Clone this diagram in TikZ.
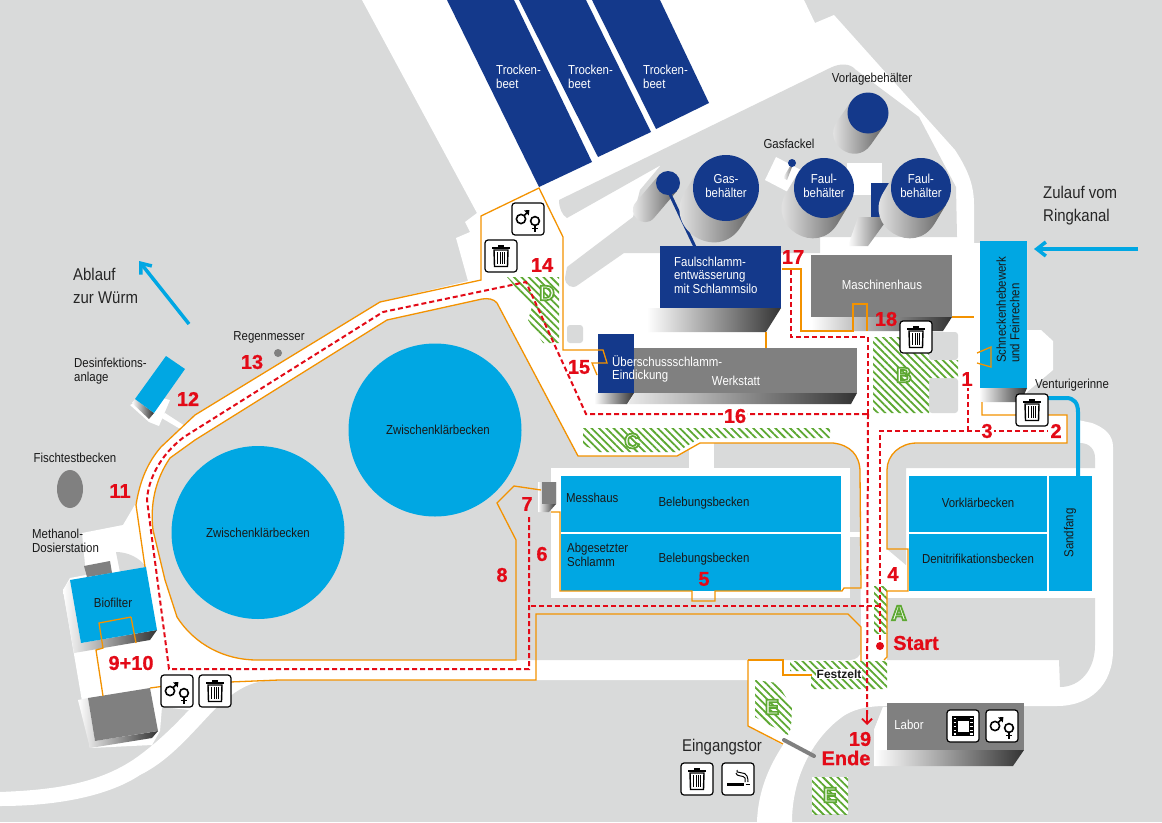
\documentclass[tikz,border=0pt]{standalone}
\usepackage{fontspec}
\setmainfont{Liberation Sans}[FakeStretch=0.88]
\newfontfamily\numfont{Liberation Sans}[BoldFont=* Bold,BoldFeatures={FakeBold=0.7}]
\newfontfamily\letterfont{Liberation Sans}[BoldFont=* Bold]
\usetikzlibrary{arrows.meta,patterns.meta}

\definecolor{bggray}{HTML}{D9DADA}
\definecolor{tankblue}{HTML}{00A7E3}
\definecolor{navyblue}{HTML}{14398B}
\definecolor{housegray}{HTML}{808080}
\definecolor{routeorange}{HTML}{F39200}
\definecolor{routered}{HTML}{E30A17}
\definecolor{hatchgreen}{HTML}{5DA832}

\tikzset{
  lbl/.style={inner sep=0pt,font=\fontsize{13}{13.6}\selectfont,align=left,text=black!90},
  whitelbl/.style={lbl,text=white},
  biglbl/.style={inner sep=0pt,font=\fontsize{17}{23}\selectfont,align=left,text=black!85},
  num/.style={inner sep=1pt,text=routered,font=\numfont\bfseries\fontsize{20}{20}\selectfont},
  letter/.style={inner sep=0pt,font=\letterfont\bfseries\fontsize{21}{21}\selectfont},
  orangeline/.style={draw=routeorange,line width=1.3pt},
  redline/.style={draw=routered,line width=2pt,dash pattern=on 5pt off 3pt},
  hatch/.style={preaction={fill=white},pattern={Lines[angle=-45,distance=5.2pt,line width=1.8pt]},pattern color=hatchgreen},
  shadow/.style={left color=white,right color=black!80},
  cylshadow/.style={left color=white,right color=black!62},
  iconbox/.style={draw=black,fill=white,line width=1.2pt,rounded corners=3pt}
}

% boxes with the little symbols
\newcommand{\trashbox}[2]{
  \begin{scope}[shift={(#1,#2)}]
    \draw [iconbox] (-16,-16) rectangle (16,16);
    \fill [black] (-9,-9.5) rectangle (9,-7.5);
    \fill [black] (-3,-11.5) rectangle (3,-9.5);
    \draw [black,line width=1.4pt] (-7,-6) -- (-6.5,10.5) -- (6.5,10.5) -- (7,-6) -- cycle;
    \foreach \bx in {-3.2,-1,1,3.2}
      \draw [black,line width=1pt] (\bx,-4) -- (\bx,8);
  \end{scope}
}
\newcommand{\genderbox}[2]{
  \begin{scope}[shift={(#1,#2)}]
    \draw [iconbox] (-16,-16) rectangle (16,16);
    \draw [black,line width=1.6pt] (-7,0) circle (4.6);
    \draw [black,line width=1.6pt] (-3.8,-3.4) -- (0,-7.5);
    \fill [black] (1.4,-9) -- (-4,-8.6) -- (0.8,-3.6) -- cycle;
    \draw [black,line width=1.6pt] (7,2) circle (4.4);
    \draw [black,line width=1.6pt] (7,6.4) -- (7,12.5) (3.8,9.6) -- (10.2,9.6);
  \end{scope}
}
\newcommand{\filmbox}[2]{
  \begin{scope}[shift={(#1,#2)}]
    \draw [iconbox] (-16,-16) rectangle (16,16);
    \fill [black] (-11,-10) rectangle (11,10);
    \fill [white] (-5.5,-5.5) rectangle (5.5,5.5);
    \foreach \fy in {-7.5,-3.5,0.5,4.5,8}
      \draw [white,line width=1.2pt] (-9.5,\fy) -- (-6.8,\fy) (6.8,\fy) -- (9.5,\fy);
  \end{scope}
}
\newcommand{\smokebox}[2]{
  \begin{scope}[shift={(#1,#2)}]
    \draw [iconbox] (-16,-16) rectangle (16,16);
    \draw [black,line width=2.6pt] (-11,5.5) -- (6,5.5);
    \draw [black,line width=1.8pt] (7.5,5.5) -- (12,5.5);
    \draw [black,line width=1pt] (-1,-9) .. controls (-4,-5) and (8,-8) .. (9,-3) .. controls (10,0) and (10,1) .. (10,3);
    \draw [black,line width=1pt] (-2,-6) .. controls (-2,-2) and (6,-4) .. (7,-1) -- (7,3);
  \end{scope}
}
% round tank with its slanted side, from the centre (#1,#2)
\newcommand{\cylinder}[5]{
  \pgfmathsetmacro{\cylen}{veclen(#4,#5)}
  \pgfmathsetmacro{\cnx}{-(#5)/\cylen*#3}
  \pgfmathsetmacro{\cny}{(#4)/\cylen*#3}
  \pgfmathsetmacro{\cux}{(#4)/\cylen*#3*1.33}
  \pgfmathsetmacro{\cuy}{(#5)/\cylen*#3*1.33}
  \shade [cylshadow] (#1+\cnx,#2+\cny) -- (#1+#4+\cnx,#2+#5+\cny)
    .. controls (#1+#4+\cnx+\cux,#2+#5+\cny+\cuy) and (#1+#4-\cnx+\cux,#2+#5-\cny+\cuy) .. (#1+#4-\cnx,#2+#5-\cny)
    -- (#1-\cnx,#2-\cny) -- cycle;
  \fill [navyblue] (#1,#2) circle (#3);
}
\newcommand{\outlined}[1]{{\color{hatchgreen}\special{pdf:code 2 Tr 1.7 w 1 1 1 rg}#1\special{pdf:code 0 Tr 1 w}}}

\begin{document}
\begin{tikzpicture}[x=1pt,y=-1pt]
  \useasboundingbox (0,0) rectangle (1162,822);
  \fill [bggray] (0,0) rectangle (1162,822);

  % paved ground
  \fill [white] (362,0) -- (804,0) -- (815,23) -- (834,15) -- (955,150)
    .. controls (968,170) and (974,185) .. (974,205) -- (974,243) -- (1027,243) -- (1027,330)
    -- (1041,330) -- (1053,341) -- (1053,370) -- (1027,392) -- (1015,415) -- (1067,415)
    -- (1067,443) -- (1078,443) -- (1078,420) -- (1092,423) .. controls (1105,428) and (1113,435) .. (1113,447)
    -- (1113,650) .. controls (1113,685) and (1090,706) .. (1057,706) -- (887,706)
    .. controls (870,706) and (857,708) .. (845,715) .. controls (815,735) and (792,775) .. (792,822)
    -- (757,822) .. controls (758,790) and (770,765) .. (783,745) -- (748,726) -- (748,680) -- (279,680)
    .. controls (255,680) and (240,685) .. (214,710) .. controls (190,735) and (170,760) .. (140,775)
    .. controls (110,795) and (60,806) .. (0,806) -- (0,792) .. controls (50,790) and (100,785) .. (140,755)
    .. controls (160,740) and (175,725) .. (189,710) -- (162,707) -- (160,731) -- (152,745) -- (90,748)
    -- (63,590) -- (70,578) -- (86,575) -- (82,533) -- (123,525) -- (136,503) .. controls (140,480) and (148,462) .. (161,447)
    -- (195,415) -- (380,302) -- (468,281) -- (456,238) -- (470,232) -- (465,222) -- (477,213) -- cycle;
  % grey fields between the roads
  \fill [bggray] (559,200) -- (830,68) .. controls (840,63) and (850,63) .. (856,70) -- (919,117) -- (956,187)
    -- (957,237) -- (820,237) -- (820,253) -- (624,253) -- (578,285) .. controls (572,290) and (565,285) .. (565,278)
    -- (567,267) -- (633,217) -- (640,190) -- (661,165) -- (567,218) .. controls (562,215) and (559,208) .. (559,200) -- cycle;
  \fill [bggray] (116,552) .. controls (128,552) and (140,558) .. (146,567) -- (120,572) -- cycle;
  \fill [bggray] (387,320) -- (482,299) .. controls (488,298) and (494,299) .. (497,303) -- (578,456) -- (677,456) -- (700,443)
    -- (833,443) .. controls (850,445) and (860,455) .. (860,472) -- (861,650) .. controls (861,656) and (856,660) .. (850,660)
    -- (257,660) .. controls (225,660) and (195,645) .. (177,617) -- (165,580) -- (153,530) .. controls (150,505) and (155,480) .. (170,458)
    -- (195,440) -- cycle;
  \fill [white] (689,440) rectangle (714,470);
  \fill [white] (551,468) rectangle (850,598);
  \fill [white] (850,532) rectangle (861,537);
  \fill [bggray] (887,470) .. controls (887,455) and (900,443) .. (917,443) -- (1080,443) .. controls (1090,443) and (1095,450) .. (1095,458)
    -- (1095,468) -- (906,468) -- (906,565) -- (887,549) -- cycle;
  \fill [bggray] (887,598) -- (1095,598) -- (1095,645) .. controls (1095,670) and (1080,687) .. (1060,687) -- (1059,660) -- (887,660) -- cycle;
  \fill [bggray,rounded corners=3pt] (567,325) rectangle (583,343);
  \fill [bggray,rounded corners=3pt] (929,332) rectangle (958,360);
  \fill [bggray,rounded corners=3pt] (929,378) rectangle (958,413);
  \fill [white] (776,157) -- (801,170) -- (788,192) -- (765,180) -- cycle;
  \fill [white] (847,163) rectangle (882,195);
  \fill [white] (165,413) -- (185,426) -- (182,430) -- (160,417) -- cycle;
  \fill [white] (170,400) -- (159,426) -- (149,422) -- (130,405) -- (150,395) -- cycle;

  % tanks with a slanted side
  \cylinder{868}{113}{20.5}{-14}{20}
  \cylinder{668}{183}{12}{-23}{27}
  \shade [cylshadow] (794,162) -- (792,163) -- (783,178) -- (787,180) -- cycle;
  \fill [navyblue] (792,163) circle (4);
  \draw [navyblue,line width=3pt] (668,190) -- (695,247);
  \cylinder{726}{188}{33}{-13}{21}
  \shade [cylshadow] (858,217) -- (889,217) -- (868,246) -- (848,246) -- cycle;
  \fill [navyblue] (870.5,183) rectangle (889,217);
  \cylinder{824}{188}{30}{-12}{20}
  \cylinder{921}{188}{30}{-12}{20}

  % drying beds
  \fill [navyblue] (447,0) -- (514,0) -- (592,162) -- (539,187) -- cycle;
  \fill [navyblue] (519,0) -- (586,0) -- (651,132) -- (598,157) -- cycle;
  \fill [navyblue] (592,0) -- (660,0) -- (709,103) -- (656,129) -- cycle;

  % clarifiers and basins
  \fill [tankblue] (435,430) circle (86.5);
  \fill [tankblue] (258,532.5) circle (86.5);
  \fill [tankblue] (561,476) rectangle (841,532);
  \fill [tankblue] (561,534) rectangle (841,591);
  \fill [tankblue] (909,476) rectangle (1047,532);
  \fill [tankblue] (909,534) rectangle (1047,591);
  \fill [tankblue] (1049,476) rectangle (1092,591);

  % buildings
  \shade [shadow] (647,308) -- (781,308) -- (766,332) -- (647,332) -- cycle;
  \fill [navyblue] (660,246) rectangle (781,308);
  \shade [shadow] (811,317) -- (952,317) -- (943,331) -- (811,331) -- cycle;
  \fill [housegray] (811,255) rectangle (952,317);
  \shade [shadow] (600,393) -- (857,393) -- (851,404) -- (600,404) -- cycle;
  \fill [white] (628,393) -- (634,393) -- (628,404) -- (622,404) -- cycle;
  \fill [housegray] (633,348) rectangle (857,393);
  \shade [shadow] (594,393) -- (634,393) -- (627,404) -- (594,404) -- cycle;
  \fill [navyblue] (598,334) rectangle (634,393);
  \shade [shadow] (979,388) -- (1027,388) -- (1021,402) -- (979,402) -- cycle;
  \fill [tankblue] (980,241) rectangle (1027,388);
  \shade [shadow] (874,750) -- (874,730) -- (883,707) -- (1024,750) -- (1013,766) -- (874,766) -- cycle;
  \fill [white] (874,730) -- (883,707) -- (887,707) -- (887,750) -- (874,750) -- cycle;
  \fill [housegray] (887,703) rectangle (1024,750);
  \shade [shadow] (538,482) -- (556,482) -- (556,504) -- (549,512) -- (538,512) -- cycle;
  \fill [housegray] (542,482) rectangle (556,504);
  \shade [shadow] (132,403) -- (135,399) -- (154,413) -- (149,419) -- cycle;
  \fill [tankblue] (166,356) -- (185,369) -- (154,413) -- (135,399) -- cycle;
  \fill [housegray] (84,566) -- (110,561) -- (112,573) -- (87,577) -- cycle;
  \shade [shadow] (63,590) -- (70,580) -- (81,643) -- (157,630) -- (150,640) -- (74,653) -- cycle;
  \fill [tankblue] (70,580) -- (146,567) -- (157,630) -- (81,643) -- cycle;
  \shade [shadow] (78,700) -- (88,698) -- (95,741) -- (158,731) -- (152,738) -- (90,748) -- cycle;
  \fill [housegray] (88,698) -- (150,688) -- (158,731) -- (95,741) -- cycle;
  \fill [housegray] (70,489) ellipse (13 and 19);
  \fill [housegray] (278,353) circle (4);
  \draw [housegray,line width=4pt,line cap=round] (784,740) -- (814,756);

  % green hatched meadows
  \fill [hatch] (507,277) -- (559,277) -- (559,343) -- (543,343) -- (528,320) -- (532,307) -- cycle;
  \fill [hatch] (873,337) -- (929,337) -- (929,360) -- (958,360) -- (958,378) -- (929,378) -- (929,413) -- (873,413) -- cycle;
  \fill [hatch] (583,428) -- (830,428) -- (830,438) -- (700,438) -- (677,452) -- (600,452) -- (583,445) -- cycle;
  \fill [hatch] (874,586) -- (887,586) -- (887,633) -- (874,633) -- cycle;
  \fill [hatch] (790,661) -- (887,661) -- (887,689) -- (811,689) -- (811,671) -- (790,671) -- cycle;
  \fill [hatch] (755,680) -- (777,683) -- (792,707) -- (791,728) -- (788,735) -- (755,717) -- cycle;
  \fill [hatch] (812,777) rectangle (848,814);

  % water pipes and arrows
  \draw [tankblue,line width=4pt] (1040,398) -- (1066,398) .. controls (1074,398) and (1078,403) .. (1078,412) -- (1078,476);
  \draw [tankblue,line width=3.5pt,-{Straight Barb[length=9pt,width=14pt,line width=3.5pt]}] (1138,249) -- (1034,249);
  \draw [tankblue,line width=3.5pt,-{Straight Barb[length=9pt,width=14pt,line width=3.5pt]}] (189,324) -- (139,261);

  % orange fences
  \draw [orangeline] (145,567) -- (136,505) .. controls (140,480) and (148,462) .. (161,447) -- (195,415) -- (380,302) -- (481,280) -- (481,216) -- (539,188) -- (563,237) -- (563,350) -- (603,350) -- (607,363) -- (592,363) -- (597,375);
  \draw [orangeline] (541,490) -- (514,486) -- (497,503) -- (516,540) -- (516,660) -- (257,660) .. controls (225,660) and (195,645) .. (177,617) -- (165,580) -- (153,530) .. controls (150,505) and (155,480) .. (170,458) -- (195,440) -- (387,320) -- (482,299) .. controls (488,298) and (494,299) .. (497,303) -- (578,456) -- (677,456) -- (700,443) -- (833,443) .. controls (850,445) and (860,455) .. (860,472) -- (861,588) -- (844,588) -- (842,591) -- (715,591) -- (715,601) -- (692,601) -- (692,591) -- (560,591) -- (560,512) -- (551,512);
  \draw [orangeline] (131,617) -- (99,623) -- (103,648) -- (96,650) -- (103,696);
  \draw [orangeline] (131,617) -- (136,643);
  \draw [orangeline] (150,688) -- (165,686);
  \draw [orangeline] (230,682) -- (279,680) -- (536,680) -- (536,614) -- (848,614) -- (861,627) -- (861,661);
  \draw [orangeline] (748,660) -- (783,660) -- (783,675) -- (812,675);
  \draw [orangeline] (748,660) -- (748,726) -- (783,744);
  \draw [orangeline] (884,660) -- (887,657) -- (887,591) -- (908,591) -- (908,549) -- (887,549) -- (887,470) .. controls (887,455) and (900,443) .. (917,443) -- (1067,443) -- (1067,415) -- (982,415) -- (982,402);
  \draw [orangeline] (782,269) -- (801,269) -- (801,331) -- (853,331) -- (853,304) -- (867,304) -- (867,331);
  \draw [orangeline] (766,332) -- (766,348);
  \draw [orangeline] (952,317) -- (974,317);
  \draw [orangeline] (977,353) -- (991,347) -- (991,367) -- (977,363);

  % red route
  \draw [redline] (880,640) -- (880,431) -- (1048,431);
  \draw [redline] (968,431) -- (968,388);
  \draw [redline] (880,606) -- (529,606);
  \draw [redline] (529,517) -- (529,669) -- (169,669) -- (147,500) .. controls (148,480) and (160,455) .. (184,437) -- (383,312) -- (526,282) -- (586,414) -- (868,414);
  \draw [redline] (868,414) -- (868,337) -- (791,337) -- (791,270);
  \draw [redline] (868,414) -- (867,714);
  \draw [routered,line width=1.8pt,-{Straight Barb[length=5pt,width=10pt,line width=1.8pt]}] (867,714) -- (867,725);
  \fill [routered] (880,646) circle (4);

  % icons
  \genderbox{528}{219}
  \trashbox{501}{256}
  \trashbox{916}{337}
  \trashbox{1032}{410}
  \genderbox{177}{691}
  \trashbox{215}{691}
  \filmbox{963}{726}
  \genderbox{1002}{726}
  \trashbox{697}{779}
  \smokebox{738}{779}

  % texts
  \node [whitelbl,anchor=west] (bed1) at (496,77) {Trocken-\\beet};
  \node [whitelbl,anchor=west] (bed2) at (568,77) {Trocken-\\beet};
  \node [whitelbl,anchor=west] (bed3) at (643,77) {Trocken-\\beet};
  \node [lbl] (vorlage) at (872,79) {Vorlagebehälter};
  \node [lbl] (fackel) at (789,144) {Gasfackel};
  \node [whitelbl,align=center] (gas) at (726,186) {Gas-\\behälter};
  \node [whitelbl,align=center] (faul1) at (824,186) {Faul-\\behälter};
  \node [whitelbl,align=center] (faul2) at (921,186) {Faul-\\behälter};
  \node [biglbl,anchor=west] (zulauf) at (1043,206) {Zulauf vom\\Ringkanal};
  \node [biglbl,anchor=west] (ablauf) at (73,286) {Ablauf\\zur Würm};
  \node [whitelbl,anchor=west] (entw) at (674,275) {Faulschlamm-\\entwässerung\\mit Schlammsilo};
  \node [whitelbl] (masch) at (882,285) {Maschinenhaus};
  \node [whitelbl,anchor=west] (eind) at (612,369) {Überschussschlamm-\\Eindickung};
  \node [whitelbl] (werk) at (736,381) {Werkstatt};
  \node [lbl,rotate=90,anchor=west] (schn) at (1008,363) {Schneckenhebewerk\\und Feinrechen};
  \node [lbl] (vent) at (1072,385) {Venturigerinne};
  \node [lbl] (regen) at (269,337) {Regenmesser};
  \node [lbl,anchor=west] (desinf) at (74,371) {Desinfektions-\\anlage};
  \node [lbl] (fisch) at (75,458) {Fischtestbecken};
  \node [lbl,anchor=west] (meth) at (32,541) {Methanol-\\Dosierstation};
  \node [lbl] (bio) at (113,603) {Biofilter};
  \node [lbl] (zwk1) at (438,430) {Zwischenklärbecken};
  \node [lbl] (zwk2) at (258,533) {Zwischenklärbecken};
  \node [lbl,anchor=west] (mess) at (566,498) {Messhaus};
  \node [lbl,anchor=west] (abges) at (567,555) {Abgesetzter\\Schlamm};
  \node [lbl] (beleb1) at (704,503) {Belebungsbecken};
  \node [lbl] (beleb2) at (704,559) {Belebungsbecken};
  \node [lbl] (vork) at (978,503) {Vorklärbecken};
  \node [lbl] (deni) at (978,559) {Denitrifikationsbecken};
  \node [lbl,rotate=90] (sand) at (1070,533) {Sandfang};
  \node [lbl,fill=white,inner sep=0.5pt,font=\letterfont\bfseries\fontsize{12}{12}\selectfont] (fest) at (839,674) {Festzelt};
  \node [whitelbl] (labor) at (909,725) {Labor};
  \node [biglbl] (tor) at (722,747) {Eingangstor};

  % numbers of the tour
  \node [num] (n1) at (967,379) {1};
  \node [num,fill=white] (n3) at (987,431) {3};
  \node [num,fill=white] (n2) at (1056,431) {2};
  \node [num] (n4) at (893,574) {4};
  \node [num] (n5) at (704,579) {5};
  \node [num] (n6) at (542,554) {6};
  \node [num] (n7) at (527,504) {7};
  \node [num] (n8) at (502,575) {8};
  \node [num] (n9) at (131,663) {9+10};
  \node [num] (n11) at (120,491) {11};
  \node [num] (n12) at (188,399) {12};
  \node [num] (n13) at (252,362) {13};
  \node [num] (n14) at (542,265) {14};
  \node [num] (n15) at (579,367) {15};
  \node [num,fill=white] (n16) at (735,416) {16};
  \node [num] (n17) at (793,257) {17};
  \node [num] (n18) at (886,319) {18};
  \node [num] (n19) at (860,739) {19};
  \node [num] (ende) at (846,758) {Ende};
  \node [num] (start) at (916,643) {Start};

  % letters of the meadows
  \node [letter] (la) at (899,613) {\outlined{A}};
  \node [letter] (lb) at (904,375) {\outlined{B}};
  \node [letter] (lc) at (632,441) {\outlined{C}};
  \node [letter] (ld) at (547,293) {\outlined{D}};
  \node [letter] (le1) at (772,707) {\outlined{E}};
  \node [letter] (le2) at (830,795) {\outlined{E}};
\end{tikzpicture}
\end{document}
